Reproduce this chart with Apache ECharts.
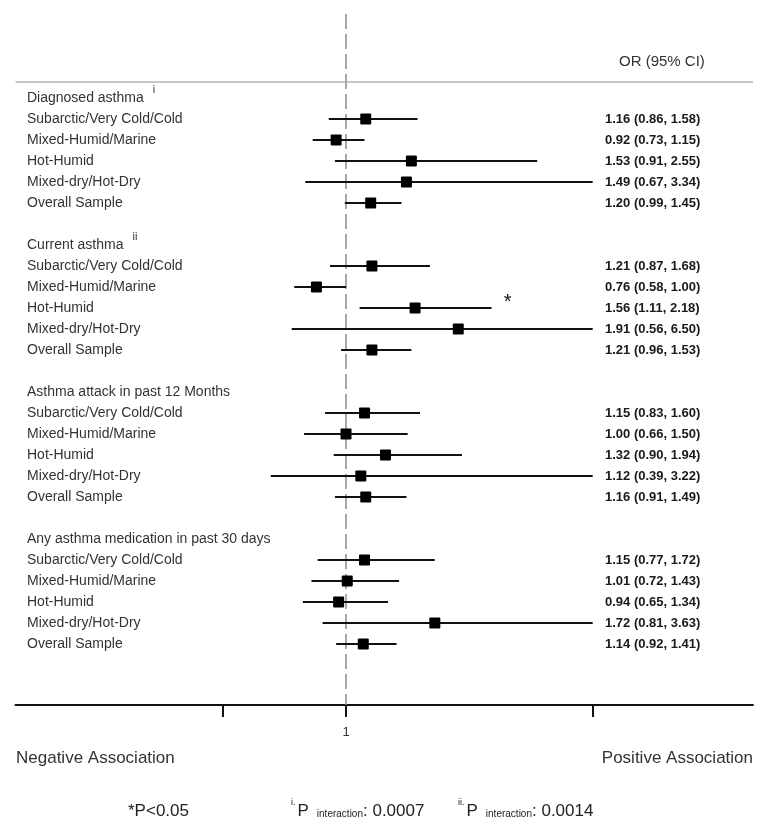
<!DOCTYPE html>
<html>
<head>
<meta charset="utf-8">
<script src="https://cdn.jsdelivr.net/npm/echarts@6/dist/echarts.min.js"></script>
<style>
html,body{margin:0;padding:0;background:#fff;}
#chart{width:771px;height:826px;}
</style>
</head>
<body>
<div id="chart"></div>
<script>
// ---- data ----
const groupTitles = ['Diagnosed asthma', 'Current asthma', 'Asthma attack in past 12 Months', 'Any asthma medication in past 30 days'];
const groupSup = ['i', 'ii', '', ''];
const subgroups = ['Subarctic/Very Cold/Cold', 'Mixed-Humid/Marine', 'Hot-Humid', 'Mixed-dry/Hot-Dry', 'Overall Sample'];
const orDiag = [1.16, 0.92, 1.53, 1.49, 1.20];
const loDiag = [0.86, 0.73, 0.91, 0.67, 0.99];
const hiDiag = [1.58, 1.15, 2.55, 3.34, 1.45];
const orCurr = [1.21, 0.76, 1.56, 1.91, 1.21];
const loCurr = [0.87, 0.58, 1.11, 0.56, 0.96];
const hiCurr = [1.68, 1.00, 2.18, 6.50, 1.53];
const orAttack = [1.15, 1.00, 1.32, 1.12, 1.16];
const loAttack = [0.83, 0.66, 0.90, 0.39, 0.91];
const hiAttack = [1.60, 1.50, 1.94, 3.22, 1.49];
const orMed = [1.15, 1.01, 0.94, 1.72, 1.14];
const loMed = [0.77, 0.72, 0.65, 0.81, 0.92];
const hiMed = [1.72, 1.43, 1.34, 3.63, 1.41];
const sigDiag = ['', '', '', '', ''];
const sigCurr = ['', '', '*', '', ''];
const sigAttack = ['', '', '', '', ''];
const sigMed = ['', '', '', '', ''];
const xTickValues = [0, 1, 3];
const xLabelValues = [1];
const xDisplayCap = 3;
const ciHeader = 'OR (95% CI)';
const leftNote = 'Negative Association';
const rightNote = 'Positive Association';
const sigNote = '*P<0.05';
const pNoteSup = ['i.', 'ii.'];
const pNoteValues = ['0.0007', '0.0014'];

const orAll = [orDiag, orCurr, orAttack, orMed];
const loAll = [loDiag, loCurr, loAttack, loMed];
const hiAll = [hiDiag, hiCurr, hiAttack, hiMed];
const sigAll = [sigDiag, sigCurr, sigAttack, sigMed];

// build rows
const estRows = [];
const headRows = [];
for (let g = 0; g < groupTitles.length; g++) {
  const base = g * 7;
  headRows.push({ value: [1, base], title: groupTitles[g], sup: groupSup[g] });
  for (let k = 0; k < subgroups.length; k++) {
    estRows.push({
      value: [orAll[g][k], base + 1 + k, loAll[g][k], hiAll[g][k]],
      label: subgroups[k],
      sig: sigAll[g][k]
    });
  }
}
const fmt = v => v.toFixed(2);

const FAMILY = '"Liberation Sans", Arial, sans-serif';
const LABEL_X = 27;
const CI_X = 605;
const LABEL_SIZE = 14;

const mctx = document.createElement('canvas').getContext('2d');
function tw(text, size, weight) {
  mctx.font = (weight ? weight + ' ' : '') + size + 'px ' + FAMILY;
  return mctx.measureText(text).width;
}

// footnote pieces laid out with measured widths
function pNote(startX, sup, val) {
  const els = [];
  let x = startX;
  els.push({ type: 'text', x: x, y: 803, style: { text: sup, fill: '#222', font: '9px ' + FAMILY, verticalAlign: 'middle' } });
  x += tw(sup, 9) + 2;
  els.push({ type: 'text', x: x, y: 811, style: { text: 'P', fill: '#222', font: '17px ' + FAMILY, verticalAlign: 'middle' } });
  x += tw('P', 17) + 8;
  els.push({ type: 'text', x: x, y: 814.5, style: { text: 'interaction', fill: '#222', font: '10px ' + FAMILY, verticalAlign: 'middle' } });
  x += tw('interaction', 10);
  els.push({ type: 'text', x: x, y: 811, style: { text: ': ' + val, fill: '#222', font: '17px ' + FAMILY, verticalAlign: 'middle' } });
  return els;
}

const chart = echarts.init(document.getElementById('chart'), null, { renderer: 'canvas' });

const option = {
  animation: false,
  backgroundColor: '#fff',
  grid: { left: 15.5, right: 771 - 753, top: 14, bottom: 826 - 705, containLabel: false },
  xAxis: {
    type: 'value',
    min: -1.68,
    max: 4.3,
    axisLine: { show: true, onZero: false, lineStyle: { color: '#111', width: 2 } },
    axisTick: { show: true, customValues: xTickValues, length: 12, lineStyle: { color: '#111', width: 2 } },
    axisLabel: { show: true, customValues: xLabelValues, margin: 21, color: '#333', fontSize: 13, fontFamily: FAMILY },
    splitLine: { show: false }
  },
  yAxis: {
    type: 'value',
    inverse: true,
    min: -4,
    max: 28.9,
    show: false,
    splitLine: { show: false }
  },
  graphic: [
    { type: 'text', x: 619, y: 62, style: { text: ciHeader, fill: '#333', font: '15px ' + FAMILY, verticalAlign: 'middle' } },
    { type: 'text', x: 16, y: 758, style: { text: leftNote, fill: '#333', font: '17px ' + FAMILY, verticalAlign: 'middle' } },
    { type: 'text', x: 753, y: 758, style: { text: rightNote, fill: '#333', font: '17px ' + FAMILY, align: 'right', verticalAlign: 'middle' } },
    { type: 'text', x: 128, y: 811, style: { text: sigNote, fill: '#222', font: '17px ' + FAMILY, verticalAlign: 'middle' } }
  ].concat(pNote(291, pNoteSup[0], pNoteValues[0])).concat(pNote(458, pNoteSup[1], pNoteValues[1])),
  series: [
    {
      type: 'custom',
      name: 'headers',
      z: 1,
      data: headRows,
      silent: true,
      renderItem: function (params, api) {
        const r = headRows[params.dataIndex];
        const y = api.coord([1, api.value(1)])[1];
        const children = [{
          type: 'text',
          style: { x: LABEL_X, y: y, text: r.title, fill: '#333', font: LABEL_SIZE + 'px ' + FAMILY, align: 'left', verticalAlign: 'middle' }
        }];
        if (r.sup) {
          children.push({
            type: 'text',
            style: { x: LABEL_X + tw(r.title, LABEL_SIZE) + 9, y: y - 8, text: r.sup, fill: '#333', font: '11px ' + FAMILY, align: 'left', verticalAlign: 'middle' }
          });
        }
        return { type: 'group', children: children };
      },
      markLine: {
        silent: true,
        z: 1,
        symbol: ['none', 'none'],
        label: { show: false },
        data: [
          { xAxis: 1, lineStyle: { color: '#8a8a8a', width: 1.5, type: [15, 5] } },
          { yAxis: -0.79, lineStyle: { color: '#b4b4b4', width: 1.5, type: 'solid' } }
        ]
      }
    },
    {
      type: 'custom',
      name: 'estimates',
      z: 5,
      data: estRows,
      silent: true,
      renderItem: function (params, api) {
        const r = estRows[params.dataIndex];
        const orv = api.value(0), row = api.value(1), lo = api.value(2), hi = api.value(3);
        const pOr = api.coord([orv, row]);
        const pLo = api.coord([lo, row]);
        const pHi = api.coord([Math.min(hi, xDisplayCap), row]);
        const y = pOr[1];
        const sq = 11;
        const children = [
          { type: 'line', shape: { x1: pLo[0], y1: y, x2: pHi[0], y2: y }, style: { stroke: '#111', lineWidth: 2 } },
          { type: 'rect', shape: { x: pOr[0] - sq / 2, y: y - sq / 2, width: sq, height: sq, r: 1 }, style: { fill: '#000' } },
          { type: 'text', style: { x: LABEL_X, y: y, text: r.label, fill: '#333', font: LABEL_SIZE + 'px ' + FAMILY, align: 'left', verticalAlign: 'middle' } },
          { type: 'text', style: { x: CI_X, y: y, text: fmt(orv) + ' (' + fmt(lo) + ', ' + fmt(hi) + ')', fill: '#1a1a1a', font: 'bold 13px ' + FAMILY, align: 'left', verticalAlign: 'middle' } }
        ];
        if (r.sig) {
          children.push({ type: 'text', style: { x: pHi[0] + 16, y: y - 6, text: r.sig, fill: '#111', font: '20px ' + FAMILY, align: 'center', verticalAlign: 'middle' } });
        }
        return { type: 'group', children: children };
      }
    }
  ]
};
chart.setOption(option);
</script>
</body>
</html>
